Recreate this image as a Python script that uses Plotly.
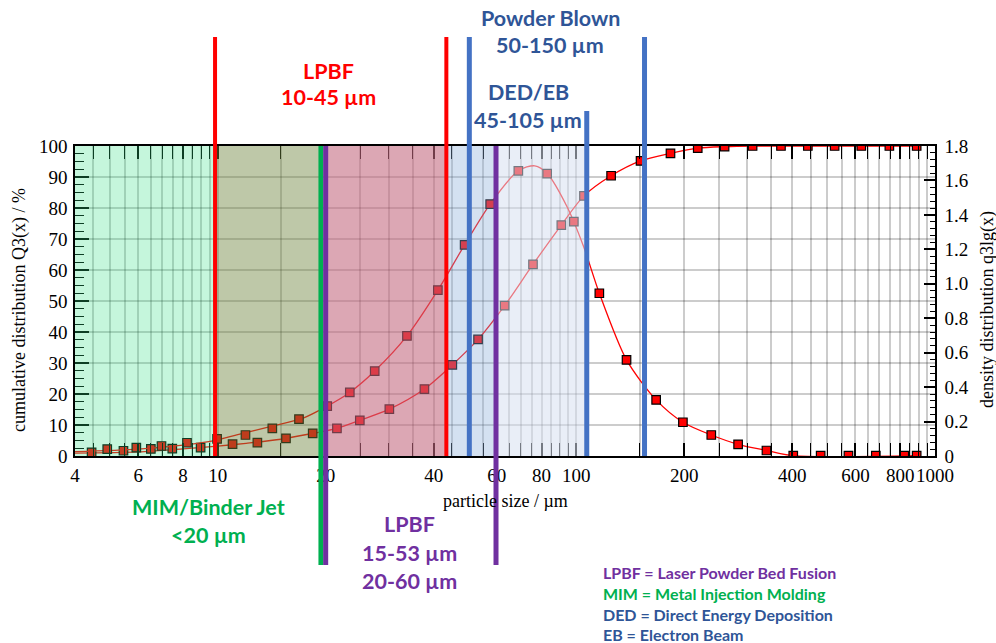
import math
import plotly.graph_objects as go

# ---------------- data ----------------
# cumulative distribution Q3(x) / %  (markers)
cum_x = [4.45, 5.46, 6.51, 7.47, 8.96, 11.0, 12.9, 15.5, 18.4, 21.5, 24.9, 30.1, 37.7, 45.1,
         53.2, 63.1, 75.7, 90.8, 105, 125, 151, 183, 218, 259, 310, 372, 442, 525, 623, 746, 889]
cum_y = [1.2, 1.7, 2.3, 2.4, 2.7, 3.8, 4.3, 5.7, 7.3, 8.9, 11.5, 15.1, 21.6, 29.4,
         37.6, 48.5, 61.8, 74.5, 83.9, 90.4, 95.2, 97.6, 99.3, 99.8, 100, 100, 100, 100, 100, 100, 100]
# cumulative fitted curve
cum_fit_x = [4.0, 6.0, 8.0, 10.0, 12.0, 15.0, 18.4, 21.5, 24.9, 30.1, 37.7, 45.1, 53.2, 63.1,
             75.7, 90.8, 105, 125, 151, 183, 218, 259, 310, 889]
cum_fit_y = [0.9, 1.3, 2.3, 3.2, 4.1, 5.4, 7.3, 8.9, 11.5, 15.1, 21.6, 29.4, 37.6, 48.5,
             61.8, 74.5, 83.9, 90.4, 95.2, 97.6, 99.3, 99.8, 100, 100]

# density distribution q3lg(x)  (markers)
dens_x = [4.92, 5.93, 6.97, 8.21, 9.96, 11.95, 14.2, 16.85, 20.2, 23.35, 27.4, 33.7, 41.1, 48.8,
          57.5, 68.9, 82.9, 98.4, 115.9, 138, 166.9, 198.2, 237.8, 282.5, 338.9, 402.5, 479.9,
          573.7, 683.9, 821, 889]
dens_y = [0.040, 0.049, 0.058, 0.077, 0.099, 0.122, 0.160, 0.214, 0.290, 0.369, 0.493, 0.697,
          0.963, 1.226, 1.463, 1.656, 1.640, 1.361, 0.945, 0.558, 0.326, 0.196, 0.122, 0.068,
          0.032, 0.002, 0.002, 0.002, 0.002, 0.002, 0.002]
# density fitted curve
dens_fit_x = [4.0, 6.0, 8.0, 9.7, 11.3, 14.0, 17.3, 20.2, 23.35, 27.4, 33.7, 41.1, 48.8, 57.5,
              68.9, 76.6, 82.9, 94.2, 104.8, 115.9, 138, 166.9, 198.2, 237.8, 282.5, 338.9, 402.5, 889]
dens_fit_y = [0.025, 0.040, 0.063, 0.088, 0.122, 0.171, 0.220, 0.290, 0.369, 0.493, 0.697, 0.963,
              1.226, 1.463, 1.656, 1.685, 1.640, 1.447, 1.215, 0.945, 0.558, 0.326, 0.196, 0.122,
              0.068, 0.032, 0.002, 0.002]

# axis ticks
x_tickvals = [4, 6, 8, 10, 20, 40, 60, 80, 100, 200, 400, 600, 800, 1000]
x_ticktext = ["4", "6", "8", "10", "20", "40", "60", "80", "100", "200", "400", "600", "800", "1000"]
x_minorvals = [4.5, 5, 5.5, 6.5, 7, 7.5, 8.5, 9, 9.5, 15, 25, 30, 35, 45, 50, 55, 65, 70, 75, 85,
               90, 95, 150, 250, 300, 350, 450, 500, 550, 650, 700, 750, 850, 900, 950]
y_tickvals = [0, 10, 20, 30, 40, 50, 60, 70, 80, 90, 100]
y2_tickvals = [0, 0.2, 0.4, 0.6, 0.8, 1.0, 1.2, 1.4, 1.6, 1.8]
y2_ticktext = ["0", "0.2", "0.4", "0.6", "0.8", "1.0", "1.2", "1.4", "1.6", "1.8"]

# process size-range boundaries (µm)
red_bounds = [9.83, 43.4]
blue_bounds = [50.3, 106.9, 154.9]
green_bounds = [19.4]
purple_bounds = [20.0, 59.7]

# ---------------- layout geometry ----------------
W, H = 996, 643
L, R, T, B = 75, 61, 146, 187
PW = W - L - R
PH = H - T - B


def pxx(p):
    return (p - L) / PW


def pxy(p):
    return (H - B - p) / PH


RED = "#FF0000"
BLUE = "#4472C4"
DBLUE = "#2F5597"
GREEN = "#00B050"
PURPLE = "#7030A0"
SERIF = "Liberation Serif"
SANS = "Lato"

fig = go.Figure()

fig.add_trace(go.Scatter(x=cum_fit_x, y=cum_fit_y, mode="lines",
                         line=dict(color=RED, width=1.3, shape="spline", smoothing=0.8),
                         hoverinfo="skip", showlegend=False))
fig.add_trace(go.Scatter(x=dens_fit_x, y=dens_fit_y, mode="lines", yaxis="y2",
                         line=dict(color=RED, width=1.3, shape="spline", smoothing=0.8),
                         hoverinfo="skip", showlegend=False))
fig.add_trace(go.Scatter(x=cum_x, y=cum_y, mode="markers",
                         marker=dict(symbol="square", size=8.5, color=RED,
                                     line=dict(color="black", width=1.2)),
                         showlegend=False))
fig.add_trace(go.Scatter(x=dens_x, y=dens_y, mode="markers", yaxis="y2",
                         marker=dict(symbol="square", size=8.5, color=RED,
                                     line=dict(color="black", width=1.2)),
                         showlegend=False))

shapes = []
# translucent process bands laid over the plot
bands = [
    (4, red_bounds[0], "rgba(45,222,128,0.28)"),
    (red_bounds[0], green_bounds[0], "rgba(111,133,62,0.45)"),
    (purple_bounds[0], red_bounds[1], "rgba(194,104,125,0.58)"),
    (red_bounds[1], purple_bounds[1], "rgba(138,173,216,0.37)"),
    (purple_bounds[1], blue_bounds[1], "rgba(214,223,240,0.54)"),
]
for x0, x1, col in bands:
    shapes.append(dict(type="rect", xref="x", yref="y", x0=x0, x1=x1, y0=0, y1=100,
                       fillcolor=col, line=dict(width=0), layer="above"))

top_long = pxy(37)
top_short = pxy(111)
bot_long = pxy(565)
for v in red_bounds:
    shapes.append(dict(type="line", xref="x", yref="paper", x0=v, x1=v, y0=0, y1=top_long,
                       line=dict(color=RED, width=4), layer="above"))
for i, v in enumerate(blue_bounds):
    shapes.append(dict(type="line", xref="x", yref="paper", x0=v, x1=v, y0=0,
                       y1=top_short if i == 1 else top_long,
                       line=dict(color=BLUE, width=5), layer="above"))
for v in green_bounds:
    shapes.append(dict(type="line", xref="x", yref="paper", x0=v, x1=v, y0=bot_long, y1=1,
                       line=dict(color=GREEN, width=5), layer="above"))
for v in purple_bounds:
    shapes.append(dict(type="line", xref="x", yref="paper", x0=v, x1=v, y0=bot_long, y1=1,
                       line=dict(color=PURPLE, width=5), layer="above"))

LBL = 21.5
labels = [
    ("<b>LPBF</b>", 328, 71, RED),
    ("<b>10-45 µm</b>", 328, 97, RED),
    ("<b>Powder Blown</b>", 550, 18, DBLUE),
    ("<b>50-150 µm</b>", 550, 45, DBLUE),
    ("<b>DED/EB</b>", 528, 92, DBLUE),
    ("<b>45-105 µm</b>", 528, 120, DBLUE),
    ("<b>MIM/Binder Jet</b>", 208, 507, GREEN),
    ("<b><20 µm</b>", 208, 535, GREEN),
    ("<b>LPBF</b>", 409, 524, PURPLE),
    ("<b>15-53 µm</b>", 409, 553, PURPLE),
    ("<b>20-60 µm</b>", 409, 581, PURPLE),
]
annotations = []
for txt, x, y, col in labels:
    annotations.append(dict(text=txt, x=pxx(x), y=pxy(y), xref="paper", yref="paper",
                            showarrow=False, xanchor="center", yanchor="middle",
                            font=dict(family=SANS, size=LBL, color=col)))

legend_lines = [
    ("<b>LPBF = Laser Powder Bed Fusion</b>", 572, PURPLE),
    ("<b>MIM = Metal Injection Molding</b>", 593, GREEN),
    ("<b>DED = Direct Energy Deposition</b>", 614, DBLUE),
    ("<b>EB = Electron Beam</b>", 634, DBLUE),
]
for txt, y, col in legend_lines:
    annotations.append(dict(text=txt, x=pxx(601), y=pxy(y), xref="paper", yref="paper",
                            showarrow=False, xanchor="left", yanchor="middle",
                            font=dict(family=SANS, size=16, color=col)))

# axis titles
annotations.append(dict(text="cumulative distribution Q3(x) / %", x=pxx(19), y=pxy(310),
                        xref="paper", yref="paper", showarrow=False, textangle=-90,
                        xanchor="center", yanchor="middle",
                        font=dict(family=SERIF, size=18, color="black")))
annotations.append(dict(text="density distribution q3lg(x)", x=pxx(987), y=pxy(309),
                        xref="paper", yref="paper", showarrow=False, textangle=-90,
                        xanchor="center", yanchor="middle",
                        font=dict(family=SERIF, size=18, color="black")))
annotations.append(dict(text="particle size / µm", x=pxx(505), y=pxy(501),
                        xref="paper", yref="paper", showarrow=False,
                        xanchor="center", yanchor="middle",
                        font=dict(family=SERIF, size=18, color="black")))

GRID = "rgba(0,0,0,0.2)"
fig.update_layout(
    width=W, height=H,
    margin=dict(l=L, r=R, t=T, b=B, pad=0, autoexpand=False),
    paper_bgcolor="white", plot_bgcolor="white",
    showlegend=False,
    xaxis=dict(type="log", range=[math.log10(4), 3], tickmode="array",
               tickvals=x_tickvals, ticktext=x_ticktext, ticks="inside", ticklen=13,
               tickangle=0, automargin=False,
               tickwidth=1.5, tickcolor="black", showline=True, linecolor="black",
               linewidth=1.5, mirror="allticks", showgrid=True, gridcolor=GRID, gridwidth=1.5,
               zeroline=False, ticklabelstandoff=1,
               tickfont=dict(family=SERIF, size=19, color="black"),
               minor=dict(tickmode="array", tickvals=x_minorvals, ticks="inside", ticklen=7,
                          tickwidth=1.2, tickcolor="black", showgrid=True, gridcolor=GRID,
                          gridwidth=1.5)),
    yaxis=dict(range=[0, 100], tickmode="array", tickvals=y_tickvals, ticks="inside",
               ticklen=14, tickwidth=1.5, tickcolor="black", showline=True, linecolor="black",
               linewidth=1.5, showgrid=True, gridcolor=GRID, gridwidth=1.5, zeroline=False,
               ticklabelstandoff=2, automargin=False,
               tickfont=dict(family=SERIF, size=19, color="black"),
               minor=dict(dtick=2.5, ticks="inside", ticklen=9, tickwidth=1.2,
                          tickcolor="black", showgrid=False)),
    yaxis2=dict(range=[0, 1.8], overlaying="y", side="right", tickmode="array",
                tickvals=y2_tickvals, ticktext=y2_ticktext, ticks="inside", ticklen=11,
                tickwidth=1.5, tickcolor="black", showline=True, linecolor="black",
                linewidth=1.5, showgrid=False, zeroline=False, ticklabelstandoff=4,
                automargin=False,
                tickfont=dict(family=SERIF, size=19, color="black"),
                minor=dict(dtick=0.04, ticks="inside", ticklen=5, tickwidth=1.2,
                           tickcolor="black", showgrid=False)),
    shapes=shapes,
    annotations=annotations,
)

fig.write_html("out.html", config={"displayModeBar": False},
               post_script="document.body.style.margin='0';document.body.style.overflow='hidden';")
